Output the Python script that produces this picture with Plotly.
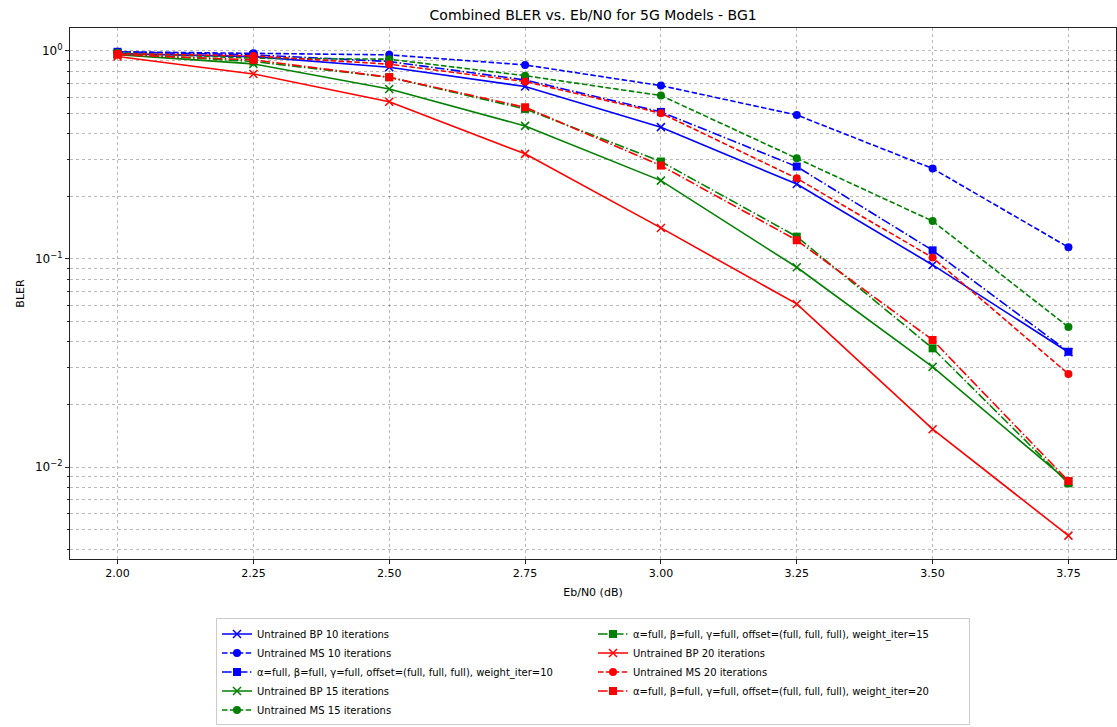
import plotly.graph_objects as go

ebn0 = [2.00, 2.25, 2.50, 2.75, 3.00, 3.25, 3.50, 3.75]

bp10 = [0.97, 0.939, 0.835, 0.674, 0.430, 0.229, 0.0936, 0.0356]
ms10 = [0.99, 0.975, 0.957, 0.856, 0.681, 0.492, 0.272, 0.1138]
tr10 = [0.99, 0.957, 0.889, 0.725, 0.509, 0.278, 0.110, 0.0358]
bp15 = [0.96, 0.866, 0.656, 0.436, 0.238, 0.0912, 0.0303, 0.0085]
ms15 = [0.98, 0.922, 0.912, 0.760, 0.610, 0.305, 0.152, 0.0471]
tr15 = [0.97, 0.889, 0.747, 0.526, 0.294, 0.128, 0.0372, 0.00835]
bp20 = [0.94, 0.775, 0.570, 0.320, 0.141, 0.0608, 0.0152, 0.00468]
ms20 = [0.97, 0.946, 0.863, 0.712, 0.502, 0.244, 0.1015, 0.0280]
tr20 = [0.96, 0.905, 0.747, 0.536, 0.281, 0.123, 0.0408, 0.00857]

trained_label = "α=full, β=full, γ=full, offset=(full, full, full), weight_iter={}"

series = [
    ("Untrained BP 10 iterations", bp10, "blue", "solid", "x-thin", 1),
    ("Untrained MS 10 iterations", ms10, "blue", "dash", "circle", 3),
    (trained_label.format(10), tr10, "blue", "dashdot", "square", 5),
    ("Untrained BP 15 iterations", bp15, "green", "solid", "x-thin", 7),
    ("Untrained MS 15 iterations", ms15, "green", "dash", "circle", 9),
    (trained_label.format(15), tr15, "green", "dashdot", "square", 2),
    ("Untrained BP 20 iterations", bp20, "red", "solid", "x-thin", 4),
    ("Untrained MS 20 iterations", ms20, "red", "dash", "circle", 6),
    (trained_label.format(20), tr20, "red", "dashdot", "square", 8),
]

colors = {"blue": "#0000ff", "green": "#008000", "red": "#ff0000"}
dashes = {"solid": "solid", "dash": "5.5px,2.4px", "dashdot": "9.6px,2.4px,1.5px,2.4px"}

fig = go.Figure()
for name, vals, col, ls, sym, rank in series:
    c = colors[col]
    if sym == "x-thin":
        marker = dict(symbol="x-thin", size=8, color=c, line=dict(color=c, width=1.5))
    elif sym == "circle":
        marker = dict(symbol="circle", size=8, color=c, line=dict(width=0))
    else:
        marker = dict(symbol="square", size=8, color=c, line=dict(width=0))
    fig.add_trace(go.Scatter(
        x=ebn0, y=vals, name=name, mode="lines+markers",
        line=dict(color=c, width=1.6, dash=dashes[ls]),
        marker=marker, legendrank=rank,
    ))

major_vals = [1, 0.1, 0.01]
major_text = ["10<sup>0</sup>", "10<sup>−1</sup>", "10<sup>−2</sup>"]
minor_vals = [m * d for d in (0.001, 0.01, 0.1) for m in range(2, 10)]

grid_col = "rgba(0,0,0,0.28)"
font = "DejaVu Sans"

fig.update_layout(
    width=1117, height=727,
    margin=dict(l=70, r=1, t=28, b=168),
    paper_bgcolor="white", plot_bgcolor="white",
    font=dict(family=font, size=11, color="black"),
    title=dict(text="Combined BLER vs. Eb/N0 for 5G Models - BG1",
               x=0.531, xanchor="center", y=0.979, yanchor="middle",
               font=dict(size=14, family=font, color="black")),
    legend=dict(orientation="h", x=0.5, xanchor="center", y=-0.112, yanchor="top",
                entrywidth=331, entrywidthmode="pixels",
                bordercolor="#cccccc", borderwidth=1, bgcolor="white",
                font=dict(size=10, family=font), traceorder="normal"),
    showlegend=True,
)

fig.update_xaxes(
    range=[1.9125, 3.8375], tick0=2.0, dtick=0.25, tickformat=".2f",
    title=dict(text="Eb/N0 (dB)", font=dict(size=11), standoff=9),
    showline=True, linecolor="#222222", linewidth=1, mirror=True,
    ticks="outside", ticklen=4, tickcolor="#222222",
    showgrid=True, gridcolor=grid_col, griddash="dot", gridwidth=1,
    zeroline=False, tickfont=dict(size=11),
)
fig.update_yaxes(
    type="log", range=[-2.442, 0.11],
    tickmode="array", tickvals=major_vals, ticktext=major_text,
    title=dict(text="BLER", font=dict(size=11), standoff=8),
    showline=True, linecolor="#222222", linewidth=1, mirror=True,
    ticks="outside", ticklen=4, tickcolor="#222222",
    showgrid=True, gridcolor=grid_col, griddash="dot", gridwidth=1,
    minor=dict(tickmode="array", tickvals=minor_vals, ticks="outside", ticklen=2,
               tickcolor="#222222", showgrid=True, gridcolor=grid_col, griddash="dot",
               gridwidth=1),
    zeroline=False, tickfont=dict(size=12),
)

fig.write_html("out.html")
